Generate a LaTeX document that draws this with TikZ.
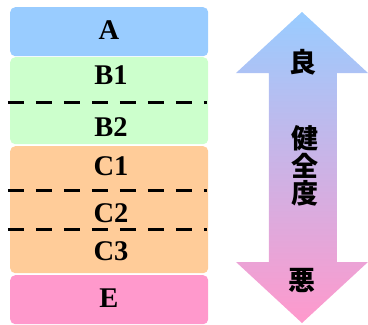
\documentclass[tikz,border=0pt]{standalone}
\usepackage{fontspec}
\newfontfamily\cjk{Noto Sans CJK JP}
\newfontfamily\lblserif{Liberation Serif}
\definecolor{cA}{HTML}{99CCFF}
\definecolor{cB}{HTML}{CCFFCC}
\definecolor{cC}{HTML}{FFCC99}
\definecolor{cE}{HTML}{FF99CC}
\newcommand\lblfont{\lblserif\fontsize{28.5pt}{30pt}\selectfont\bfseries}
\newcommand\kanjifont{\cjk\fontsize{27pt}{27.5pt}\selectfont\bfseries}
\begin{document}
\begin{tikzpicture}[x=1pt,y=-1pt,
  layer/.style={draw=none,rounded corners=5pt,inner sep=0pt,minimum width=198pt,anchor=north west},
  lbl/.style={font=\lblfont,inner sep=0pt,anchor=base},
  divider/.style={line width=3pt,dash pattern=on 16pt off 12pt},
  kanji/.style={font=\kanjifont,inner sep=0pt}]
\useasboundingbox (0,0) rectangle (368,325);
\node[layer,fill=cA,minimum height=49pt] (boxA) at (10,7) {};
\node[layer,fill=cB,minimum height=87pt] (boxB) at (10,57) {};
\node[layer,fill=cC,minimum height=127pt] (boxC) at (10,146) {};
\node[layer,fill=cE,minimum height=49pt] (boxE) at (10,275) {};
\node[lbl] (tA) at (109,39) {A};
\node[lbl] (tB1) at (111,84.5) {B1};
\node[lbl] (tB2) at (111,136) {B2};
\node[lbl] (tC1) at (111,175) {C1};
\node[lbl] (tC2) at (111,222) {C2};
\node[lbl] (tC3) at (111,260) {C3};
\node[lbl] (tE) at (109,307) {E};
\draw[divider] (8,102) -- (207.5,102);
\draw[divider] (8,190) -- (207.5,190);
\draw[divider] (8,229) -- (207.5,229);
\shade[top color=cA,bottom color=cE]
  (302,12) -- (368,73) -- (337,73) -- (337,262) -- (368,262) -- (302,323)
  -- (236,262) -- (269,262) -- (269,73) -- (236,73) -- cycle;
\node[kanji] (good) at (303.5,62) {良};
\node[kanji,align=center] (health) at (305,166) {健\\全\\度};
\node[kanji] (bad) at (302.5,280) {悪};
\end{tikzpicture}
\end{document}
